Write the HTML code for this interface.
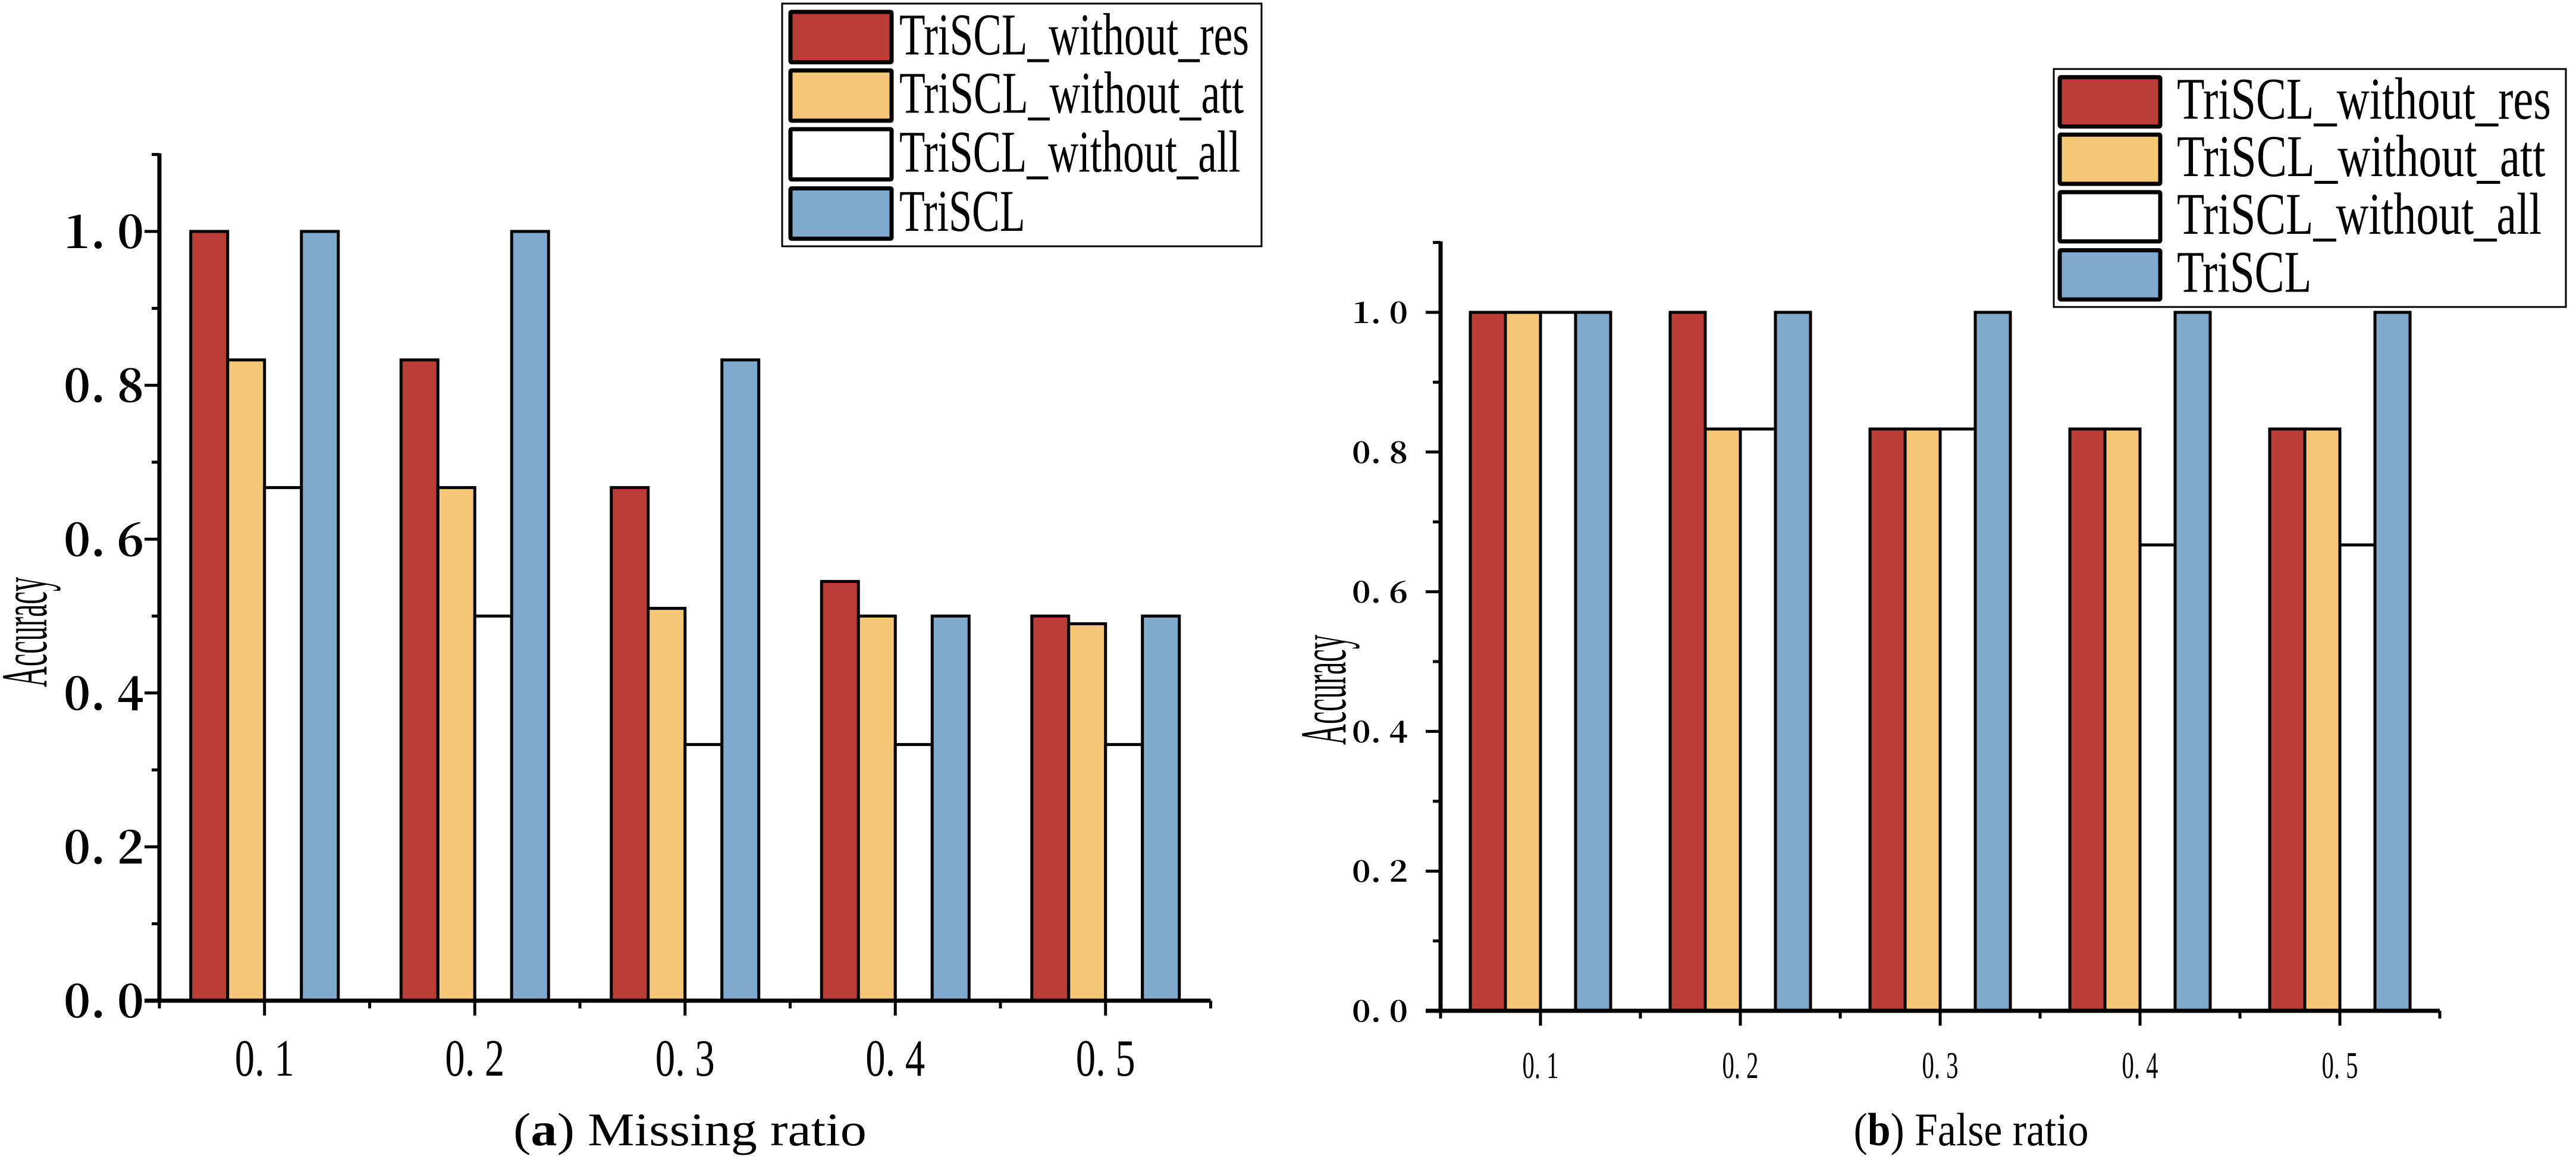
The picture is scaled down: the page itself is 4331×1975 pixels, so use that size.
<!DOCTYPE html>
<html><head><meta charset="utf-8"><style>
html,body{margin:0;padding:0;background:#fff;}
svg{display:block;}
</style></head><body>
<svg id="fig" xmlns="http://www.w3.org/2000/svg" width="4331" height="1975" viewBox="0 0 4331 1975">
<rect width="4331" height="1975" fill="#fff"/>
<g id="chartA"></g>
<g id="chartB"></g>
</svg>
<script>
const categoriesA = ["0. 1","0. 2","0. 3","0. 4","0. 5"];
const resA = [1.0, 0.833, 0.667, 0.545, 0.5];
const attA = [0.833, 0.667, 0.51, 0.5, 0.49];
const allA = [0.667, 0.5, 0.333, 0.333, 0.333];
const triA = [1.0, 1.0, 0.833, 0.5, 0.5];
const categoriesB = ["0. 1","0. 2","0. 3","0. 4","0. 5"];
const resB = [1.0, 1.0, 0.833, 0.833, 0.833];
const attB = [1.0, 0.833, 0.833, 0.833, 0.833];
const allB = [1.0, 0.833, 0.833, 0.667, 0.667];
const triB = [1.0, 1.0, 1.0, 1.0, 1.0];
const yTicks = ["0. 0","0. 2","0. 4","0. 6","0. 8","1. 0"];
const yTickVals = [0, 0.2, 0.4, 0.6, 0.8, 1.0];
const seriesNames = ["TriSCL_without_res","TriSCL_without_att","TriSCL_without_all","TriSCL"];
const colors = ["#bb3e36","#f7c778","#ffffff","#7faacd"];
const NS = "http://www.w3.org/2000/svg";
function mk(parent, tag, attrs, text){
  const e = document.createElementNS(NS, tag);
  for (const k in attrs) e.setAttribute(k, attrs[k]);
  if (text !== undefined) e.textContent = text;
  parent.appendChild(e); return e;
}
function drawChart(g, cfg, cats, series, prefix){
  const yS = v => cfg.y0 - v*(cfg.y0 - cfg.y1);
  const step = cfg.step;
  const xC = i => cfg.x0 + step*(i+0.5);
  const xEnd = cfg.x0 + step*cats.length;
  series.forEach((vals, s) => {
    vals.forEach((v, i) => {
      const x = xC(i) - 2*cfg.bw + s*cfg.bw;
      const r = mk(g, "rect", {x:x, y:yS(v), width:cfg.bw, height:yS(0)-yS(v), fill:colors[s], stroke:"#000", "stroke-width":cfg.bs});
      
      
    });
  });
  const ya = mk(g, "line", {x1:cfg.x0, y1:yS(1.1)-2, x2:cfg.x0, y2:yS(0)+cfg.aw/2, stroke:"#000", "stroke-width":cfg.aw});
  
  
  const xa = mk(g, "line", {x1:cfg.x0-cfg.majT, y1:yS(0), x2:xEnd, y2:yS(0), stroke:"#000", "stroke-width":cfg.aw});
  
  
  for (let k=0;k<=11;k++){
    const v = k/10; const major = k%2===0;
    mk(g,"line",{x1:cfg.x0-(major?cfg.majT:cfg.minT), y1:yS(v), x2:cfg.x0, y2:yS(v), stroke:"#000","stroke-width":cfg.tw});
  }
  yTicks.forEach((t, i) => {
    const tx = mk(g, "text", {x:cfg.ylx, y:yS(yTickVals[i])+cfg.yfs*0.36, "font-family":"'Noto Serif CJK SC','Liberation Serif',serif","font-size":cfg.yfs, "font-weight":"bold", textLength:cfg.ylw, lengthAdjust:"spacingAndGlyphs"}, t);
    
    
  });
  for (let i=0;i<=cats.length;i++){
    mk(g,"line",{x1:cfg.x0+step*i, y1:yS(0), x2:cfg.x0+step*i, y2:yS(0)+cfg.minT, stroke:"#000","stroke-width":cfg.tw});
  }
  cats.forEach((c,i)=>{
    mk(g,"line",{x1:xC(i), y1:yS(0), x2:xC(i), y2:yS(0)+cfg.majT, stroke:"#000","stroke-width":cfg.tw});
    const tx = mk(g,"text",{x:xC(i)-cfg.xlw/2, y:cfg.xly, "font-family":"'Liberation Serif',serif","font-size":cfg.xfs, textLength:cfg.xlw, lengthAdjust:"spacingAndGlyphs"}, c);
    
    
  });
  const yt = mk(g,"text",{x:-92,y:0,transform:`translate(${cfg.ytx},${cfg.yty}) rotate(-90)`,"font-family":"'Liberation Serif',serif","font-size":cfg.ytfs, textLength:185, lengthAdjust:"spacingAndGlyphs"},"Accuracy");
  
  
  const L = cfg.leg;
  const lg = mk(g,"g",{});
  
  
  mk(lg,"rect",{x:L.x,y:L.y,width:L.w,height:L.h,fill:"#fff",stroke:"#000","stroke-width":3});
  const tops=[0.027,0.268,0.51,0.754];
  seriesNames.forEach((n,s)=>{
    const ty = L.y + tops[s]*L.h;
    const sw = mk(lg,"rect",{x:L.x+L.sx+3,y:ty+3,width:L.sw-6,height:L.h*0.222-6,fill:colors[s],stroke:"#000","stroke-width":7,rx:2});
    
    
    const widths=[1,0.985,0.975,0.36];
    const tx = mk(lg,"text",{x:L.x+L.tx,y:ty+L.h*0.182,"font-family":"'Liberation Serif',serif","font-size":L.fs,textLength:L.tw*widths[s],lengthAdjust:"spacingAndGlyphs"},n);
    
    
  });
  const cp = mk(g,"text",{x:cfg.cx-cfg.cw/2,y:1925,"font-family":"'Liberation Serif',serif","font-size":78,textLength:cfg.cw,lengthAdjust:"spacingAndGlyphs"});
  
  
  mk(cp,"tspan",{},"(");
  mk(cp,"tspan",{"font-weight":"bold"},cfg.letter);
  mk(cp,"tspan",{},") "+cfg.caption);
}
drawChart(document.getElementById("chartA"),
  {x0:268,y0:1682,y1:389,step:353.5,bw:62,bs:5,aw:7,tw:5,majT:25,minT:13,ylx:107,ylw:135,yfs:78,xly:1808,xlw:100,xfs:88,ytx:78,yty:1063,ytfs:110,
   leg:{x:1315,y:6,w:806,h:408,sx:11,sw:176,tx:197,tw:588,fs:100},cx:1160,cw:594,letter:"a",caption:"Missing ratio"},
  categoriesA,[resA,attA,allA,triA],"a");
drawChart(document.getElementById("chartB"),
  {x0:2422,y0:1699,y1:525,step:336,bw:59,bs:5,aw:7,tw:5,majT:25,minT:13,ylx:2273,ylw:94,yfs:50,xly:1812,xlw:61,xfs:64,ytx:2262,yty:1160,ytfs:110,
   leg:{x:3453,y:116,w:861,h:400,sx:7,sw:175,tx:207,tw:629,fs:100},cx:3314,cw:395,letter:"b",caption:"False ratio"},
  categoriesB,[resB,attB,allB,triB],"b");
</script>
</body></html>
